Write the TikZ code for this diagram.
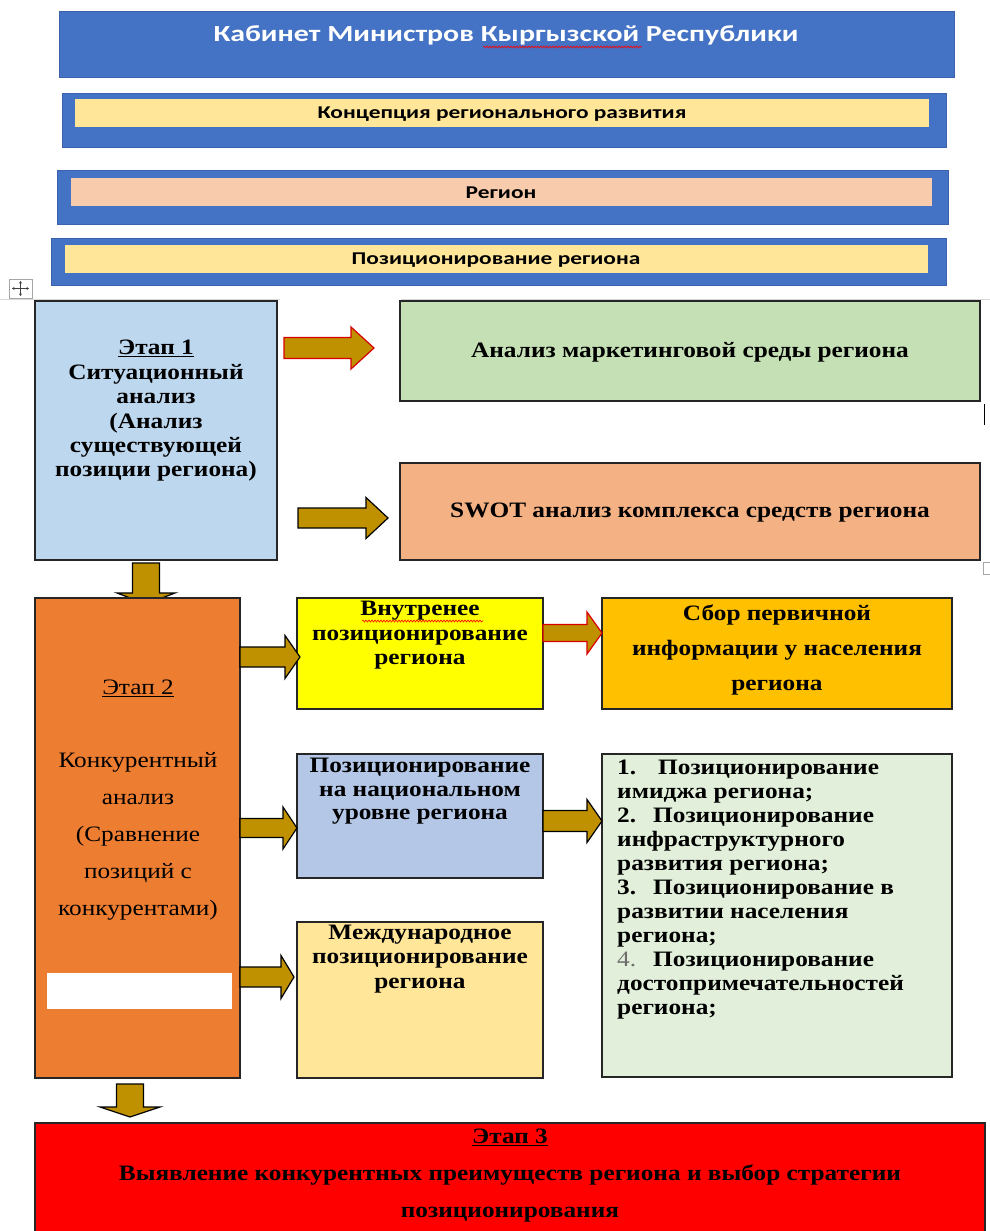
\documentclass[tikz,border=0pt]{standalone}
\usepackage{fontspec}
\setmainfont{Liberation Serif}[FakeStretch=1.15]
\newfontfamily\hdr{Carlito}[FakeStretch=1.3]
\usetikzlibrary{fit,decorations.pathmorphing,arrows.meta}
\definecolor{hblue}{HTML}{4472C4}
\definecolor{hborder}{HTML}{3A62AD}
\definecolor{lyel}{HTML}{FFE699}
\definecolor{peach}{HTML}{F8CBAD}
\definecolor{sonec}{HTML}{BDD7EE}
\definecolor{grn}{HTML}{C5E0B4}
\definecolor{swotc}{HTML}{F4B183}
\definecolor{stwoc}{HTML}{ED7D31}
\definecolor{ylw}{HTML}{FFFF00}
\definecolor{org}{HTML}{FFC000}
\definecolor{nblue}{HTML}{B4C7E7}
\definecolor{lgrn}{HTML}{E2EFDA}
\definecolor{gold}{HTML}{BF9000}
\definecolor{numgray}{HTML}{6E6E6E}
% right block arrow: style, start x, head base x, tip x, centre y, shaft half, head half
\newcommand{\rarr}[7]{\draw[#1] (#2,{#5-#6}) -- (#3,{#5-#6}) -- (#3,{#5-#7}) -- (#4,#5) -- (#3,{#5+#7}) -- (#3,{#5+#6}) -- (#2,{#5+#6}) -- cycle;}
% down block arrow: style, start y, head base y, tip y, centre x, shaft half, head half
\newcommand{\darr}[7]{\draw[#1] ({#5-#6},#2) -- ({#5-#6},#3) -- ({#5-#7},#3) -- (#5,#4) -- ({#5+#7},#3) -- ({#5+#6},#3) -- ({#5+#6},#2) -- cycle;}
\begin{document}
\begin{tikzpicture}[x=1pt,y=-1pt,
  bx/.style={draw=black!85, line width=1.3pt, inner sep=0pt},
  outerbx/.style={draw=hborder, line width=1pt, fill=hblue, inner sep=0pt},
  innerbx/.style={draw=none, inner sep=0pt},
  hone/.style={font=\hdr\fontsize{23}{28}\selectfont\bfseries, text=white, inner sep=0pt},
  htwo/.style={font=\hdr\fontsize{18}{22}\selectfont\bfseries, text=black, inner sep=0pt},
  tb/.style={font=\fontsize{22}{24.4}\selectfont\bfseries, align=center, inner sep=0pt},
  tn/.style={font=\fontsize{22}{37}\selectfont, align=center, inner sep=0pt},
  blk/.style={fill=gold, draw=black, line width=1.2pt},
  redarr/.style={fill=gold, draw=red!85!black, line width=1.2pt},
  squig/.style={draw=red, line width=0.6pt, decorate, decoration={snake, amplitude=1pt, segment length=3pt}}]
\useasboundingbox (0,0) rectangle (990,1231);

% ---- header strips
\node[outerbx, fit={(59,12) (954,77)}] (cab) {};
\node[hone] (cabt) at (506,35) {Кабинет Министров Кыргызской Республики};
\draw[squig] (483,47) -- (642,47);

\node[outerbx, fit={(62,93) (946,147)}] (konc) {};
\node[innerbx, fill=lyel, fit={(75,99) (929,127)}] (konci) {};
\node[htwo] (konct) at (502,114) {Концепция регионального развития};

\node[outerbx, fit={(57,170) (948,224)}] (reg) {};
\node[innerbx, fill=peach, fit={(71,178) (932,206)}] (regi) {};
\node[htwo] (regt) at (501,193) {Регион};

\node[outerbx, fit={(51,238) (946,285)}] (pos) {};
\node[innerbx, fill=lyel, fit={(65,245) (928,273)}] (posi) {};
\node[htwo] (post) at (496,260) {Позиционирование региона};

% table marks
\draw[gray!30, line width=0.8pt] (0,299) -- (280,299) (401,299) -- (990,299);
\node[draw=gray!70, fill=white, line width=0.8pt, fit={(9,279) (32,298)}, inner sep=0pt] (mv) {};
\draw[black!75, line width=0.8pt, -{Stealth[length=2.5pt,width=3pt]}] (mv.center) -- ++(0,-7.5);
\draw[black!75, line width=0.8pt, -{Stealth[length=2.5pt,width=3pt]}] (mv.center) -- ++(0,7.5);
\draw[black!75, line width=0.8pt, -{Stealth[length=2.5pt,width=3pt]}] (mv.center) -- ++(-8.5,0);
\draw[black!75, line width=0.8pt, -{Stealth[length=2.5pt,width=3pt]}] (mv.center) -- ++(8.5,0);

% ---- stage 1
\node[bx, fill=sonec, fit={(35,301) (277,560)}] (s1) {};
\node[tb] (s1t) at (156,411) {\underline{Этап 1}\\Ситуационный\\анализ\\(Анализ\\существующей\\позиции региона)};

\node[bx, fill=grn, fit={(400,301) (980,401)}] (mkt) {};
\node[tb] (mktt) at (690,352) {Анализ маркетинговой среды региона};
\node[bx, fill=swotc, fit={(400,463) (980,560)}] (swot) {};
\node[tb] (swott) at (690,513) {SWOT анализ комплекса средств региона};

\rarr{redarr}{284}{351}{374}{348}{10.5}{21}
\rarr{blk}{298}{366}{388}{518}{10}{20.5}

\draw[black, line width=1pt] (984,404) -- (984,425);
\draw[gray!70, line width=0.8pt] (983,562) rectangle (993,574);

\darr{blk}{563}{593}{604}{146}{13.5}{29}

% ---- stage 2
\node[bx, fill=stwoc, fit={(35,598) (240,1078)}] (s2) {};
\node[font=\fontsize{22}{24}\selectfont, inner sep=0pt] (s2h) at (138,688) {\underline{Этап 2}};
\node[tn] (s2t) at (138,836.5) {Конкурентный\\анализ\\(Сравнение\\позиций с\\конкурентами)};
\node[draw=white, fill=white, inner sep=0pt, fit={(47,973) (231,1008)}] (wrect) {};

\node[bx, fill=ylw, fit={(297,598) (543,709)}] (inner) {};
\node[tb] (innert) at (420,635.5) {Внутренее\\позиционирование\\региона};
\draw[squig] (362,621) -- (483,621);

\node[bx, fill=org, fit={(602,598) (952,709)}] (sbor) {};
\node[tb, font=\fontsize{22}{35}\selectfont\bfseries] (sbort) at (777,650) {Сбор первичной\\информации у населения\\региона};

\node[bx, fill=nblue, fit={(297,754) (543,878)}] (nat) {};
\node[tb, font=\fontsize{22}{23.5}\selectfont\bfseries] (natt) at (420,791.5) {Позиционирование\\на национальном\\уровне региона};

\node[bx, fill=lgrn, fit={(602,754) (952,1077)}] (list) {};
\node[tb, align=left, anchor=west, font=\fontsize{22}{24}\selectfont\bfseries] (listt) at (617,890) {%
\makebox[41pt][l]{1.}Позиционирование\\
имиджа региона;\\
\makebox[36pt][l]{2.}Позиционирование\\
инфраструктурного\\
развития региона;\\
\makebox[36pt][l]{3.}Позиционирование в\\
развитии населения\\
региона;\\
\makebox[36pt][l]{\textcolor{numgray}{\mdseries 4.}}Позиционирование\\
достопримечательностей\\
региона;};

\node[bx, fill=lyel, fit={(297,922) (543,1078)}] (intl) {};
\node[tb] (intlt) at (420,959) {Международное\\позиционирование\\региона};

\rarr{blk}{240}{285}{300}{657}{10}{21.5}
\rarr{redarr}{543}{587}{602}{633}{8.5}{21}
\rarr{blk}{240}{283}{297}{828}{9.5}{21}
\rarr{blk}{543}{587}{602}{821}{10.5}{21.5}
\rarr{blk}{240}{281}{294}{977}{10}{21.5}

\darr{blk}{1084}{1107}{1117}{130}{13.5}{30}

% ---- stage 3
\node[bx, fill=red, fit={(35,1123) (985,1245)}] (s3) {};
\node[tb] (s3h) at (510,1137) {\underline{Этап 3}};
\node[tb, font=\fontsize{22}{37}\selectfont\bfseries] (s3t) at (510,1193.5) {Выявление конкурентных преимуществ региона и выбор стратегии\\позиционирования};
\end{tikzpicture}
\end{document}
